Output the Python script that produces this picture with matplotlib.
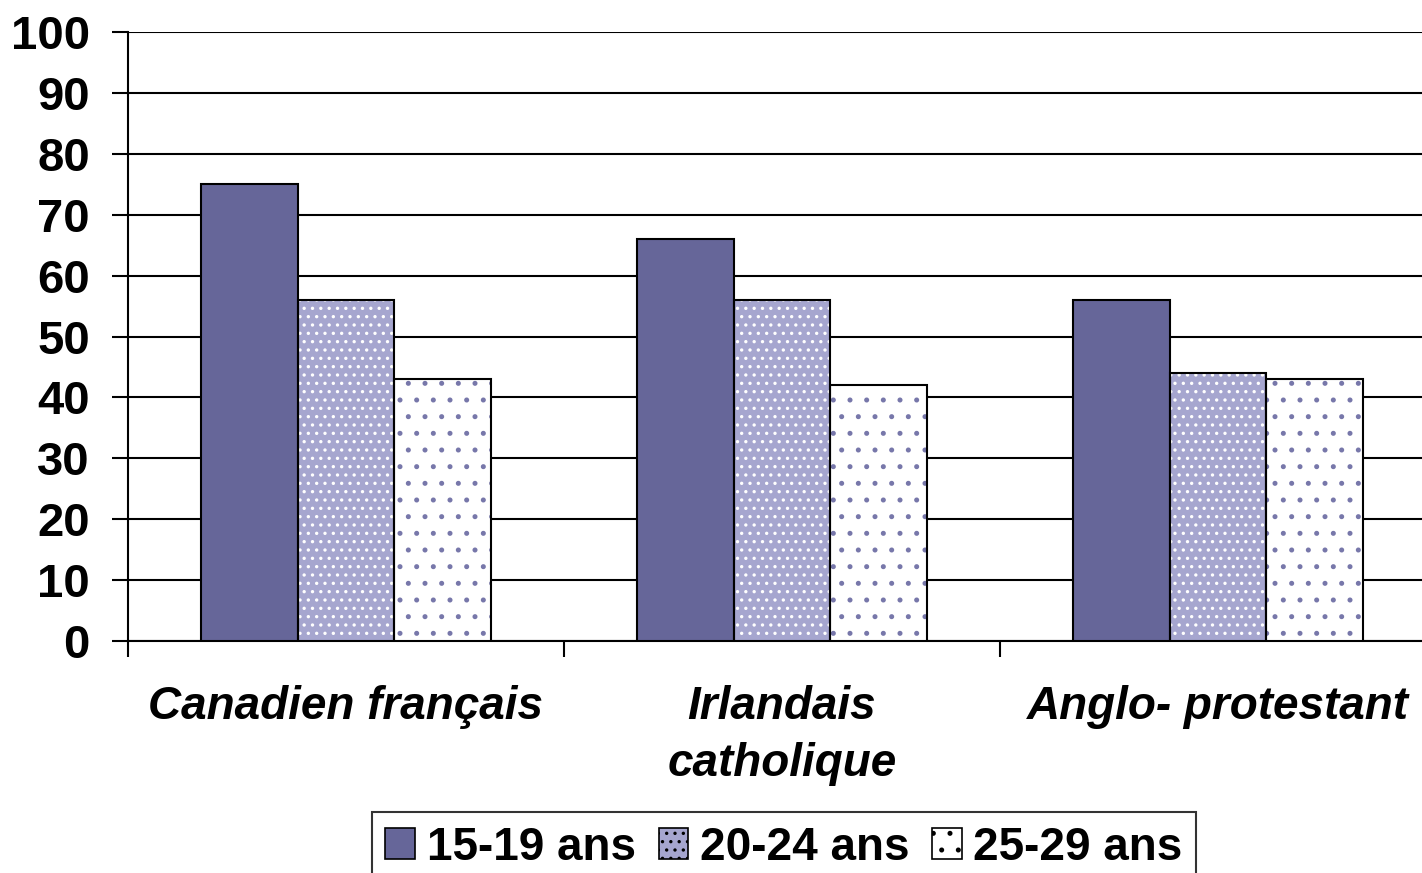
import matplotlib
matplotlib.use("Agg")
import matplotlib.pyplot as plt
from matplotlib.patches import Patch
import numpy as np

# data
categories = ["Canadien français", "Irlandais\ncatholique", "Anglo- protestant"]
series_names = ["15-19 ans", "20-24 ans", "25-29 ans"]
ages_15_19 = [75, 66, 56]
ages_20_24 = [56, 56, 44]
ages_25_29 = [43, 42, 43]
y_ticks = [0, 10, 20, 30, 40, 50, 60, 70, 80, 90, 100]

plt.rcParams["font.family"] = ["Liberation Sans", "DejaVu Sans"]
plt.rcParams["font.weight"] = "bold"
plt.rcParams["hatch.linewidth"] = 1.2

fig = plt.figure(figsize=(14.22, 8.73), dpi=100)
ax = fig.add_axes([128 / 1422, 232 / 873, 1308 / 1422, 609 / 873])

x = np.arange(len(categories))
w = 0.222
styles = [
    # facecolor, hatch, hatch colour
    ("#666699", None, "#666699"),
    ("#a6a6cf", "..", "#ffffff"),
    ("#ffffff", ".", "#7777aa"),
]
for i, vals in enumerate([ages_15_19, ages_20_24, ages_25_29]):
    fc, hatch, hc = styles[i]
    pos = x + (i - 1) * w
    ax.bar(pos, vals, width=w, color=fc, hatch=hatch, edgecolor=hc,
           linewidth=0, zorder=3)
    ax.bar(pos, vals, width=w, fill=False, edgecolor="black",
           linewidth=1.5, zorder=4)

ax.set_xlim(-0.5, 2.5)
ax.set_ylim(0, 100)
ax.set_yticks(y_ticks)
ax.tick_params(axis="y", labelsize=34, length=11.5, width=1.5, pad=16)
ax.grid(True, axis="y", color="black", linewidth=1.5, zorder=0)
ax.set_axisbelow(True)

# group separators as major ticks, category names as minor tick labels
ax.set_xticks([-0.5, 0.5, 1.5, 2.5])
ax.set_xticklabels([])
ax.tick_params(axis="x", which="major", length=11.5, width=1.5)
ax.set_xticks(x, minor=True)
ax.set_xticklabels(categories, minor=True, fontsize=33, style="italic",
                   fontweight="bold", linespacing=1.36)
ax.tick_params(axis="x", which="minor", length=0, pad=32)

for side in ["top", "right"]:
    ax.spines[side].set_visible(False)
ax.spines["left"].set_linewidth(1.5)
ax.spines["bottom"].set_linewidth(1.5)

handles = []
for (fc, hatch, hc), name in zip(styles, series_names):
    handles.append(Patch(facecolor=fc, edgecolor="black", hatch=hatch,
                         linewidth=1.2, label=name))
leg = fig.legend(handles=handles, loc="upper center",
                 bbox_to_anchor=(784 / 1422, 1 - 812 / 873),
                 ncol=3, fontsize=33, frameon=True, fancybox=False,
                 edgecolor="black", handlelength=0.65, handleheight=0.65,
                 handletextpad=0.25, columnspacing=0.5, borderpad=0.3,
                 borderaxespad=0)
leg.get_frame().set_linewidth(1.5)

fig.savefig("out.png", dpi=100)
